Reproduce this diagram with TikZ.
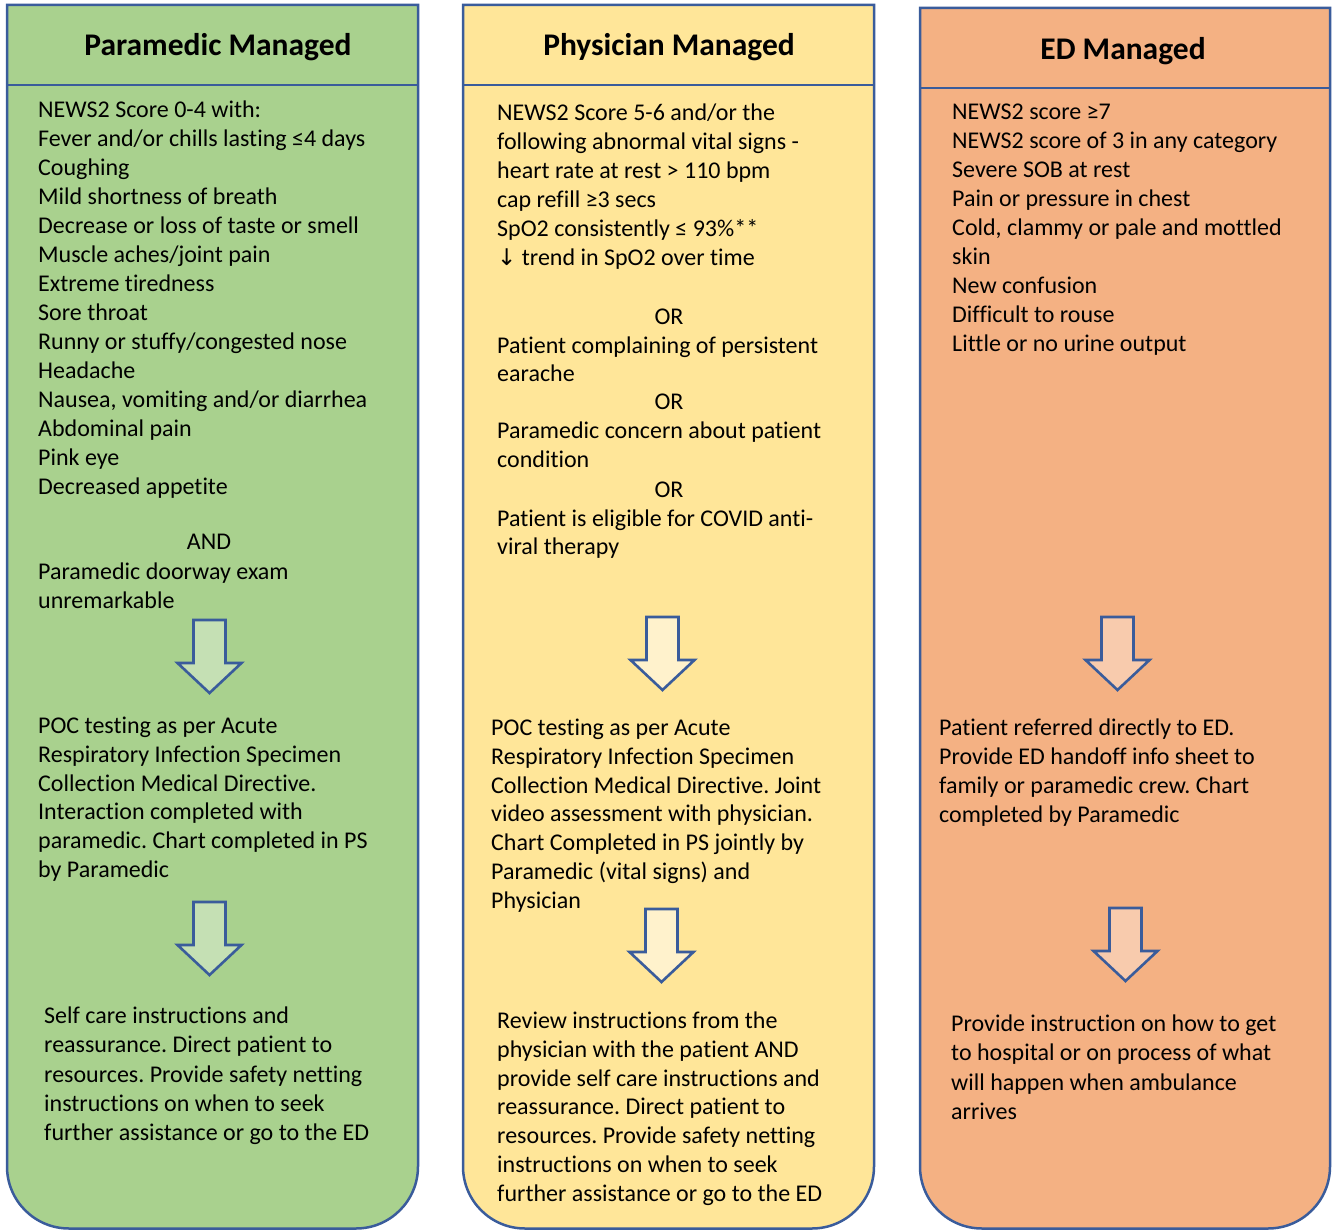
\documentclass[tikz,border=0pt]{standalone}
\usepackage{fontspec}
\setmainfont{Carlito}[Ligatures=NoCommon]
\newfontfamily\symfont{DejaVu Sans}
\definecolor{pmgreen}{HTML}{A9D18E}
\definecolor{phyellow}{HTML}{FFE699}
\definecolor{edorange}{HTML}{F4B183}
\definecolor{arrgreen}{HTML}{C5E0B4}
\definecolor{arryellow}{HTML}{FFF2CC}
\definecolor{arrorange}{HTML}{F8CBAD}
\definecolor{edge}{HTML}{3A5C9B}
\frenchspacing
\tikzset{
  txt/.style={anchor=base west, inner sep=0pt, font=\fontsize{24}{29}\selectfont},
  ctxt/.style={anchor=base, inner sep=0pt, font=\fontsize{24}{29}\selectfont},
  head/.style={anchor=base, inner sep=0pt, font=\bfseries\fontsize{31.5}{36}\selectfont},
  column/.style={draw=edge, line width=2.5pt},
  blockarrow/.style={draw=edge, line width=2.6pt, line join=miter}
}
% a column: name, left, right, top, header rule, bottom, fill
\newcommand\columnbox[7]{%
  \draw[column, fill=#7] (#2,-#4) -- (#3,-#4) -- (#3,{-(#6-62)})
    arc[start angle=0, end angle=-90, radius=62] -- ({#2+62},-#6)
    arc[start angle=270, end angle=180, radius=62] -- cycle;
  \draw[column] (#2,-#5) -- (#3,-#5);
}
% a down block arrow: centre x, top y, fill
\newcommand\blockdown[3]{%
  \draw[blockarrow, fill=#3] ({#1-16},-#2) -- ({#1+16},-#2) -- ({#1+16},{-(#2+43)})
    -- ({#1+32},{-(#2+43)}) -- (#1,{-(#2+73)}) -- ({#1-32},{-(#2+43)})
    -- ({#1-16},{-(#2+43)}) -- cycle;
}
% lines of text: name, x, first baseline, line step, list
\newcommand\txtblock[5]{%
  \foreach \t [count=\i from 0] in {#5} {
    \node[txt] (#1-\i) at (#2,{-(#3+\i*#4)}) {\t};
  }
}
\begin{document}
\begin{tikzpicture}[x=1pt,y=1pt]
\useasboundingbox (0,0) rectangle (1334,-1230);

% columns
\columnbox{pm}{7}{418}{5}{85}{1228.5}{pmgreen}
\columnbox{ph}{463}{874}{5}{85}{1228.5}{phyellow}
\columnbox{ed}{920}{1330}{8}{88}{1228.5}{edorange}

% headers
\node[head] (pmhead) at (218,-56) {Paramedic Managed};
\node[head] (phhead) at (669,-56) {Physician Managed};
\node[head] (edhead) at (1123,-60) {ED Managed};

% block arrows
\blockdown{209.5}{620}{arrgreen}
\blockdown{209.5}{902}{arrgreen}
\blockdown{662.5}{617}{arryellow}
\blockdown{661.5}{909}{arryellow}
\blockdown{1117.5}{617}{arrorange}
\blockdown{1125.5}{908}{arrorange}

% paramedic managed
\txtblock{pmA}{38}{117.5}{29.0}{NEWS2 Score 0-4 with:,
  Fever and/or chills lasting ≤4 days,
  Coughing,
  Mild shortness of breath,
  Decrease or loss of taste or smell,
  Muscle aches/joint pain,
  Extreme tiredness,
  Sore throat,
  Runny or stuffy/congested nose,
  Headache,
  {Nausea, vomiting and/or diarrhea},
  Abdominal pain,
  Pink eye,
  Decreased appetite}
\node[ctxt] (pmand) at (209,-549.5) {AND};
\txtblock{pmB}{38}{579.5}{29.0}{Paramedic doorway exam, unremarkable}
\txtblock{pmC}{38}{733.5}{28.8}{POC testing as per Acute,
  Respiratory Infection Specimen,
  Collection Medical Directive.,
  Interaction completed with,
  paramedic. Chart completed in PS,
  by Paramedic}
\txtblock{pmD}{44}{1023.5}{29.3}{Self care instructions and,
  reassurance. Direct patient to,
  resources. Provide safety netting,
  instructions on when to seek,
  further assistance or go to the ED}

% physician managed
\txtblock{phA}{497}{120.5}{29.0}{NEWS2 Score 5-6 and/or the,
  following abnormal vital signs -,
  heart rate at rest > 110 bpm,
  cap refill ≥3 secs,
  SpO2 consistently ≤ 93\%**,
  {{\symfont\fontsize{23}{26}\selectfont ↓} trend in SpO2 over time}}
\node[ctxt] (phor1) at (669,-324.5) {OR};
\txtblock{phB}{497}{353.5}{28.0}{Patient complaining of persistent, earache}
\node[ctxt] (phor2) at (669,-409.5) {OR};
\txtblock{phC}{497}{438.5}{29.0}{Paramedic concern about patient, condition}
\node[ctxt] (phor3) at (669,-497.5) {OR};
\txtblock{phD}{497}{526.5}{27.5}{Patient is eligible for COVID anti-, viral therapy}
\txtblock{phE}{491}{735.5}{28.8}{POC testing as per Acute,
  Respiratory Infection Specimen,
  Collection Medical Directive. Joint,
  video assessment with physician.,
  Chart Completed in PS jointly by,
  Paramedic (vital signs) and,
  Physician}
\txtblock{phF}{497}{1028.5}{28.8}{Review instructions from the,
  physician with the patient AND,
  provide self care instructions and,
  reassurance. Direct patient to,
  resources. Provide safety netting,
  instructions on when to seek,
  further assistance or go to the ED}

% ED managed
\txtblock{edA}{952}{119.5}{29.0}{NEWS2 score ≥7,
  NEWS2 score of 3 in any category,
  Severe SOB at rest,
  Pain or pressure in chest,
  {Cold, clammy or pale and mottled},
  skin,
  New confusion,
  Difficult to rouse,
  Little or no urine output}
\txtblock{edB}{939}{735.5}{29.0}{Patient referred directly to ED.,
  Provide ED handoff info sheet to,
  family or paramedic crew. Chart,
  completed by Paramedic}
\txtblock{edC}{951}{1031.5}{29.3}{Provide instruction on how to get,
  to hospital or on process of what,
  will happen when ambulance,
  arrives}
\end{tikzpicture}
\end{document}
